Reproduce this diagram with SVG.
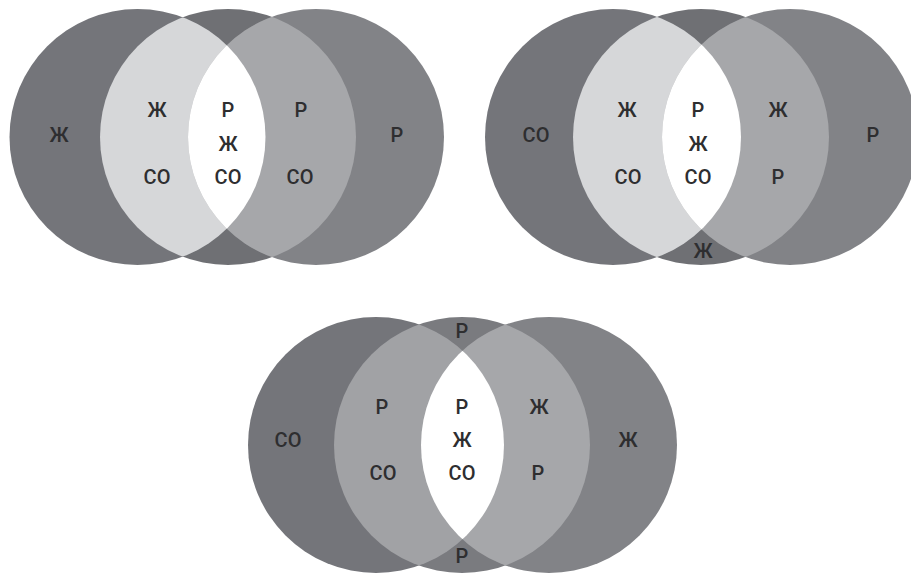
<svg xmlns="http://www.w3.org/2000/svg" width="911" height="573" viewBox="0 0 911 573">
  <style>
    .lbl { font-family: Roboto, "Noto Sans", "Liberation Sans", sans-serif; font-weight: 500; font-size: 20px; fill: #2e2e30; text-anchor: middle; dominant-baseline: central; }
    .dark-l { fill: #74757a; }
    .dark-r { fill: #828387; }
    .dark-m { fill: #6f7074; }
    .light { fill: #d6d7d9; }
    .medium { fill: #a6a7aa; }
    .white { fill: #ffffff; }
  </style>
  <defs>
    <clipPath id="a-l"><circle cx="137.5" cy="137" r="128"/></clipPath>
    <clipPath id="a-r"><circle cx="316" cy="137" r="128"/></clipPath>
    <clipPath id="b-l"><circle cx="613" cy="137" r="128"/></clipPath>
    <clipPath id="b-r"><circle cx="790" cy="137" r="128"/></clipPath>
    <clipPath id="c-l"><circle cx="376" cy="445" r="128"/></clipPath>
    <clipPath id="c-r"><circle cx="549" cy="445" r="128"/></clipPath>
  </defs>
  <rect width="911" height="573" fill="#ffffff"/>

  <!-- Upper left set -->
  <g id="venn-a">
    <circle class="dark-m" cx="228" cy="137" r="128"/>
    <circle class="dark-l" cx="137.5" cy="137" r="128"/>
    <circle class="dark-r" cx="316" cy="137" r="128"/>
    <circle class="light" cx="228" cy="137" r="128" clip-path="url(#a-l)"/>
    <circle class="medium" cx="228" cy="137" r="128" clip-path="url(#a-r)"/>
    <circle class="white" cx="137.5" cy="137" r="128" clip-path="url(#a-r)"/>
    <g id="venn-a-labels">
      <text class="lbl" x="59" y="135">Ж</text>
      <text class="lbl" x="157" y="110">Ж</text>
      <text class="lbl" x="157" y="177">СО</text>
      <text class="lbl" x="228" y="110">Р</text>
      <text class="lbl" x="228" y="144">Ж</text>
      <text class="lbl" x="228" y="177">СО</text>
      <text class="lbl" x="301" y="110">Р</text>
      <text class="lbl" x="300" y="177">СО</text>
      <text class="lbl" x="397" y="135">Р</text>
    </g>
  </g>

  <!-- Upper right set -->
  <g id="venn-b">
    <circle class="dark-m" cx="701" cy="137" r="128"/>
    <circle class="dark-l" cx="613" cy="137" r="128"/>
    <circle class="dark-r" cx="790" cy="137" r="128"/>
    <circle class="light" cx="701" cy="137" r="128" clip-path="url(#b-l)"/>
    <circle class="medium" cx="701" cy="137" r="128" clip-path="url(#b-r)"/>
    <circle class="white" cx="613" cy="137" r="128" clip-path="url(#b-r)"/>
    <g id="venn-b-labels">
      <text class="lbl" x="536" y="135">СО</text>
      <text class="lbl" x="627" y="110">Ж</text>
      <text class="lbl" x="628" y="177">СО</text>
      <text class="lbl" x="698" y="110">Р</text>
      <text class="lbl" x="698" y="144">Ж</text>
      <text class="lbl" x="698" y="177">СО</text>
      <text class="lbl" x="778" y="110">Ж</text>
      <text class="lbl" x="778" y="177">Р</text>
      <text class="lbl" x="873" y="135">Р</text>
      <text class="lbl" x="703" y="251">Ж</text>
    </g>
  </g>

  <!-- Lower set -->
  <g id="venn-c">
    <circle class="dark-m" cx="462" cy="445" r="128" style="fill:#7a7b7f"/>
    <circle class="dark-l" cx="376" cy="445" r="128"/>
    <circle class="dark-r" cx="549" cy="445" r="128"/>
    <circle class="medium" cx="462" cy="445" r="128" clip-path="url(#c-l)" style="fill:#a1a2a5"/>
    <circle class="medium" cx="462" cy="445" r="128" clip-path="url(#c-r)"/>
    <circle class="white" cx="376" cy="445" r="128" clip-path="url(#c-r)"/>
    <g id="venn-c-labels">
      <text class="lbl" x="462" y="331">Р</text>
      <text class="lbl" x="288" y="440">СО</text>
      <text class="lbl" x="382" y="407">Р</text>
      <text class="lbl" x="383" y="473">СО</text>
      <text class="lbl" x="462" y="407">Р</text>
      <text class="lbl" x="462" y="440">Ж</text>
      <text class="lbl" x="462" y="473">СО</text>
      <text class="lbl" x="539" y="407">Ж</text>
      <text class="lbl" x="538" y="473">Р</text>
      <text class="lbl" x="628" y="440">Ж</text>
      <text class="lbl" x="462" y="556">Р</text>
    </g>
  </g>
</svg>
